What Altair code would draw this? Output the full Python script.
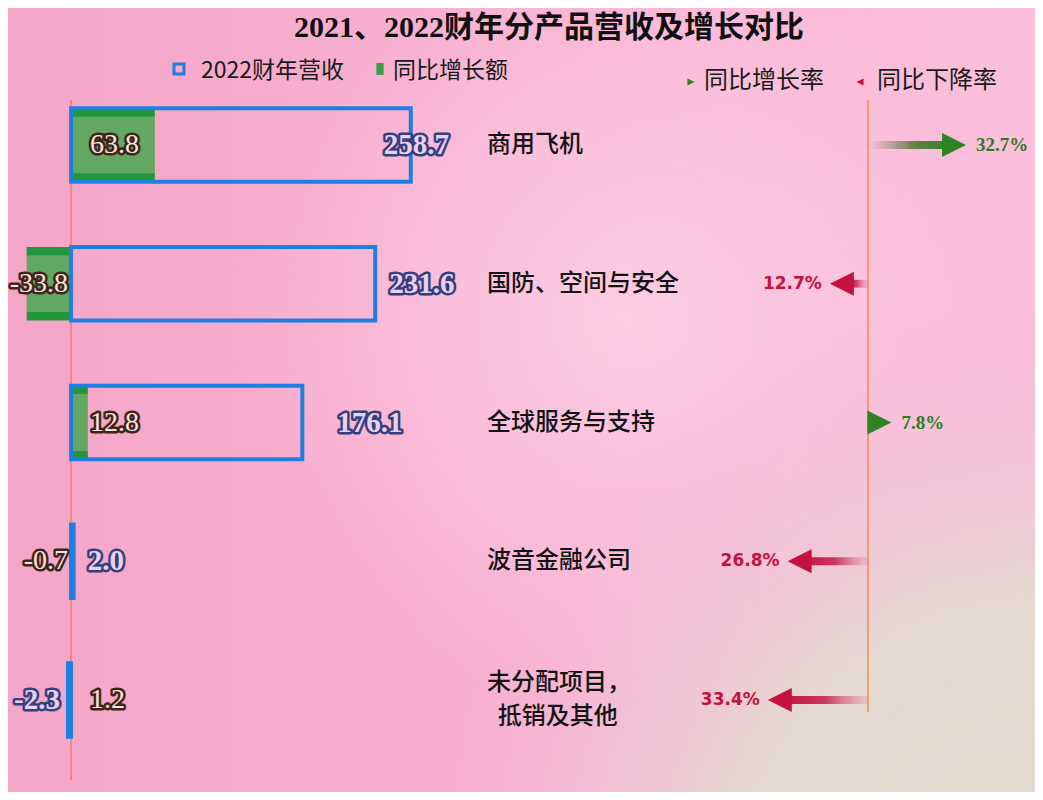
import altair as alt
import pandas as pd

# ---------------- data ----------------
categories = ["商用飞机", "国防、空间与安全", "全球服务与支持", "波音金融公司", "未分配项目，\n\u200b\u00a0\u00a0抵销及其他"]
revenue_2022 = [258.7, 231.6, 176.1, 2.0, -2.3]
yoy_change = [63.8, -33.8, 12.8, -0.7, 1.2]
yoy_rate = [32.7, -12.7, 7.8, -26.8, -33.4]

# ---------------- layout (pixels / styles) ----------------
W, H = 1027, 784
X_DOM = [-48.0, 734.0]
PPU = W / (X_DOM[1] - X_DOM[0])
PCT_DOM = [-286.67, 55.67]
Y_DOM = [-0.9874, 4.663]
rev_label_nudge = [-27, 14, 35, 14, 0]  # px offset of revenue label from bar end

BLUE = "#1f7fe0"
GREEN = "#2e8424"
RED = "#c4123e"
CJK = "Noto Sans CJK SC"
SERIF = "Liberation Serif"

df = pd.DataFrame({
    "cat": categories,
    "rev": revenue_2022,
    "chg": yoy_change,
    "rate": yoy_rate,
    "row": list(range(len(categories))),
    "nudge": rev_label_nudge,
})
df["rev_lbl"] = [f"{v:.1f}" for v in df["rev"]]
df["chg_lbl"] = [f"{v:.1f}" for v in df["chg"]]
df["rate_lbl"] = [f"{abs(v):.1f}%" for v in df["rate"]]

one = pd.DataFrame({"k": [0]})

xs = alt.Scale(domain=X_DOM, range=[0, W], nice=False, zero=False)
ps = alt.Scale(domain=PCT_DOM, range=[0, W], nice=False, zero=False)
ys = alt.Scale(domain=Y_DOM, range=[0, H], nice=False, zero=False)


def X(f):
    return alt.X(f, type="quantitative", scale=xs, axis=None)


def P(f):
    return alt.X(f, type="quantitative", scale=ps, axis=None)


def Y(f):
    return alt.Y(f, type="quantitative", scale=ys, axis=None)


base = alt.Chart(df).transform_calculate(
    zero="0",
    y0="datum.row - 0.265",
    y1="datum.row + 0.265",
    s0="datum.row - 0.028",
    s1="datum.row + 0.028",
    revx=f"datum.rev + datum.nudge / {PPU}",
)

layers = []

# ---------- background ----------
bg_lin = alt.LinearGradient(
    gradient="linear", x1=0, y1=0, x2=1, y2=0,
    stops=[alt.GradientStop(offset=0, color="#f5a6c8"),
           alt.GradientStop(offset=0.55, color="#f8b2d2"),
           alt.GradientStop(offset=1, color="#fbc0dc")],
)
layers.append(alt.Chart(one).mark_rect(fill=bg_lin).encode(
    x=alt.value(0), x2=alt.value(W), y=alt.value(0), y2=alt.value(H)))
glow = alt.RadialGradient(
    gradient="radial", x1=0.6, y1=0.42, r1=0, x2=0.6, y2=0.42, r2=0.38,
    stops=[alt.GradientStop(offset=0, color="rgba(255,225,240,0.55)"),
           alt.GradientStop(offset=0.6, color="rgba(255,215,235,0.3)"),
           alt.GradientStop(offset=1, color="rgba(255,210,230,0)")],
)
layers.append(alt.Chart(one).mark_rect(fill=glow).encode(
    x=alt.value(0), x2=alt.value(W), y=alt.value(0), y2=alt.value(H)))
bg_rad = alt.RadialGradient(
    gradient="radial", x1=1, y1=1, r1=0, x2=1, y2=1, r2=0.6,
    stops=[alt.GradientStop(offset=0, color="rgba(224,222,204,1)"),
           alt.GradientStop(offset=0.5, color="rgba(228,218,208,0.95)"),
           alt.GradientStop(offset=0.75, color="rgba(238,200,215,0.5)"),
           alt.GradientStop(offset=1, color="rgba(248,180,210,0)")],
)
layers.append(alt.Chart(one).mark_rect(fill=bg_rad).encode(
    x=alt.value(0), x2=alt.value(W), y=alt.value(0), y2=alt.value(H)))

# ---------- reference lines ----------
layers.append(alt.Chart(one).transform_calculate(z="0").mark_rule(color="#ee6a48", strokeWidth=1).encode(
    x=X("z"), y=alt.value(92), y2=alt.value(772)))
layers.append(alt.Chart(one).transform_calculate(z="0").mark_rule(color="#e97a3c", strokeWidth=1.2).encode(
    x=P("z"), y=alt.value(92), y2=alt.value(704)))

# ---------- bars ----------
green_grad = alt.LinearGradient(
    gradient="linear", x1=0, y1=0, x2=0, y2=1,
    stops=[alt.GradientStop(offset=0, color="#22963a"),
           alt.GradientStop(offset=0.11, color="#22963a"),
           alt.GradientStop(offset=0.12, color="#62a862"),
           alt.GradientStop(offset=0.88, color="#62a862"),
           alt.GradientStop(offset=0.89, color="#22963a"),
           alt.GradientStop(offset=1, color="#22963a")],
)
layers.append(base.mark_rect(fill=green_grad).encode(
    x=X("zero:Q"), x2=alt.X2("chg:Q"), y=Y("y0:Q"), y2=alt.Y2("y1:Q")))
layers.append(base.mark_rect(fill="#ffffff", fillOpacity=0, stroke=BLUE, strokeWidth=4).encode(
    x=X("zero:Q"), x2=alt.X2("rev:Q"), y=Y("y0:Q"), y2=alt.Y2("y1:Q")))

# ---------- arrows ----------
g_shaft = alt.LinearGradient(
    gradient="linear", x1=0, y1=0, x2=1, y2=0,
    stops=[alt.GradientStop(offset=0, color="rgba(140,120,100,0)"),
           alt.GradientStop(offset=0.55, color="rgba(70,120,45,0.85)"),
           alt.GradientStop(offset=1, color=GREEN)],
)
r_shaft = alt.LinearGradient(
    gradient="linear", x1=0, y1=0, x2=1, y2=0,
    stops=[alt.GradientStop(offset=0, color=RED),
           alt.GradientStop(offset=0.5, color="rgba(196,30,70,0.85)"),
           alt.GradientStop(offset=1, color="rgba(220,100,140,0.15)")],
)
pos = base.transform_filter("datum.rate > 0")
neg = base.transform_filter("datum.rate < 0")
layers.append(pos.mark_rect(fill=g_shaft, x2Offset=-14).encode(
    x=P("zero:Q"), x2=alt.X2("rate:Q"), y=Y("s0:Q"), y2=alt.Y2("s1:Q")))
layers.append(neg.mark_rect(fill=r_shaft, x2Offset=14).encode(
    x=P("zero:Q"), x2=alt.X2("rate:Q"), y=Y("s0:Q"), y2=alt.Y2("s1:Q")))
layers.append(pos.mark_point(shape="M1,0L-1,-1L-1,1Z", filled=True, size=576, color=GREEN,
                             opacity=1, xOffset=-12).encode(x=P("rate:Q"), y=Y("row:Q")))
layers.append(neg.mark_point(shape="M-1,0L1,-1L1,1Z", filled=True, size=576, color=RED,
                             opacity=1, xOffset=12).encode(x=P("rate:Q"), y=Y("row:Q")))
layers.append(pos.mark_text(align="left", baseline="middle", dx=10, font=SERIF, fontWeight="bold",
                            fontSize=19, color="#2b7a1e").encode(
    x=P("rate:Q"), y=Y("row:Q"), text="rate_lbl:N"))
layers.append(neg.mark_text(align="right", baseline="middle", dx=-8, font="DejaVu Sans", fontWeight="bold",
                            fontSize=17, color=RED).encode(
    x=P("rate:Q"), y=Y("row:Q"), text="rate_lbl:N"))

# ---------- category labels ----------
single = base.transform_filter("indexof(datum.cat, '\\n') < 0")
multi = base.transform_filter("indexof(datum.cat, '\\n') >= 0")
cat_mk = dict(align="left", baseline="middle", font=CJK, fontSize=24, fontWeight=500, color="#141414",
              lineBreak="\n", lineHeight=34)
layers.append(single.mark_text(**cat_mk).encode(x=alt.value(479), y=Y("row:Q"), text="cat:N"))
layers.append(multi.mark_text(dy=-17, **cat_mk).encode(x=alt.value(479), y=Y("row:Q"), text="cat:N"))


# ---------- value labels (outlined) ----------
def outlined(chart, enc, fill, stroke, sw, **mk):
    back = chart.mark_text(fill=stroke, stroke=stroke, strokeWidth=sw, strokeJoin="round", **mk).encode(**enc)
    front = chart.mark_text(fill=fill, **mk).encode(**enc)
    return [back, front]


REV_FILL, REV_STROKE = "#ecd0f0", "#34407e"
CHG_FILL, CHG_STROKE = "#f8e2e2", "#3e2416"
rev_mk = dict(baseline="middle", font=SERIF, fontWeight="bold", fontSize=29)
chg_mk = dict(baseline="middle", font=SERIF, fontSize=28)

rev_pos = base.transform_filter("datum.rev >= 0")
rev_neg = base.transform_filter("datum.rev < 0")
chg_pos = base.transform_filter("datum.chg >= 0")
chg_neg = base.transform_filter("datum.chg < 0")

layers += outlined(chg_pos, dict(x=X("zero:Q"), y=Y("row:Q"), text="chg_lbl:N"),
                   CHG_FILL, CHG_STROKE, 5, align="left", dx=19, **chg_mk)
layers += outlined(chg_neg, dict(x=X("zero:Q"), y=Y("row:Q"), text="chg_lbl:N"),
                   CHG_FILL, CHG_STROKE, 5, align="right", dx=-3, **chg_mk)
layers += outlined(rev_pos, dict(x=X("revx:Q"), y=Y("row:Q"), text="rev_lbl:N"),
                   REV_FILL, REV_STROKE, 5, align="left", **rev_mk)
layers += outlined(rev_neg, dict(x=X("zero:Q"), y=Y("row:Q"), text="rev_lbl:N"),
                   REV_FILL, REV_STROKE, 5, align="right", dx=-11, **rev_mk)

# ---------- title ----------
layers.append(alt.Chart(one).mark_text(
    text="2021、2022财年分产品营收及增长对比", align="center", baseline="middle",
    font=f"{SERIF}, {CJK}", fontWeight="bold", fontSize=30, color="#111111").encode(
    x=alt.value(541), y=alt.value(20)))

# ---------- legends ----------
layers.append(alt.Chart(one).mark_point(shape="square", filled=False, size=100, stroke=BLUE,
                                        strokeWidth=3, opacity=1).encode(x=alt.value(171), y=alt.value(61)))
layers.append(alt.Chart(one).mark_text(text="2022财年营收", align="left", baseline="middle", font=CJK,
                                       fontSize=23, color="#1a1a1a").encode(x=alt.value(193), y=alt.value(63)))
layers.append(alt.Chart(one).mark_point(shape="M-0.6,-1L0.6,-1L0.6,1L-0.6,1Z", filled=True, size=144,
                                        color="#3d9a45", opacity=1).encode(x=alt.value(372), y=alt.value(61)))
layers.append(alt.Chart(one).mark_text(text="同比增长额", align="left", baseline="middle", font=CJK,
                                       fontSize=23, color="#1a1a1a").encode(x=alt.value(385), y=alt.value(63)))
layers.append(alt.Chart(one).mark_point(shape="M1,0L-1,-1L-1,1Z", filled=True, size=50, color=GREEN,
                                        opacity=1).encode(x=alt.value(683), y=alt.value(74)))
layers.append(alt.Chart(one).mark_text(text="同比增长率", align="left", baseline="middle", font=CJK,
                                       fontSize=24, color="#1a1a1a").encode(x=alt.value(696), y=alt.value(73)))
layers.append(alt.Chart(one).mark_point(shape="M-1,0L1,-1L1,1Z", filled=True, size=50, color=RED,
                                        opacity=1).encode(x=alt.value(852), y=alt.value(74)))
layers.append(alt.Chart(one).mark_text(text="同比下降率", align="left", baseline="middle", font=CJK,
                                       fontSize=24, color="#1a1a1a").encode(x=alt.value(869), y=alt.value(73)))

chart = alt.layer(*layers).resolve_scale(x="independent").properties(
    width=W, height=H, padding=0, autosize="none", background="#f7aacb"
).configure_view(stroke=None)

chart.save("out.html", embed_options={"renderer": "svg", "actions": False})
